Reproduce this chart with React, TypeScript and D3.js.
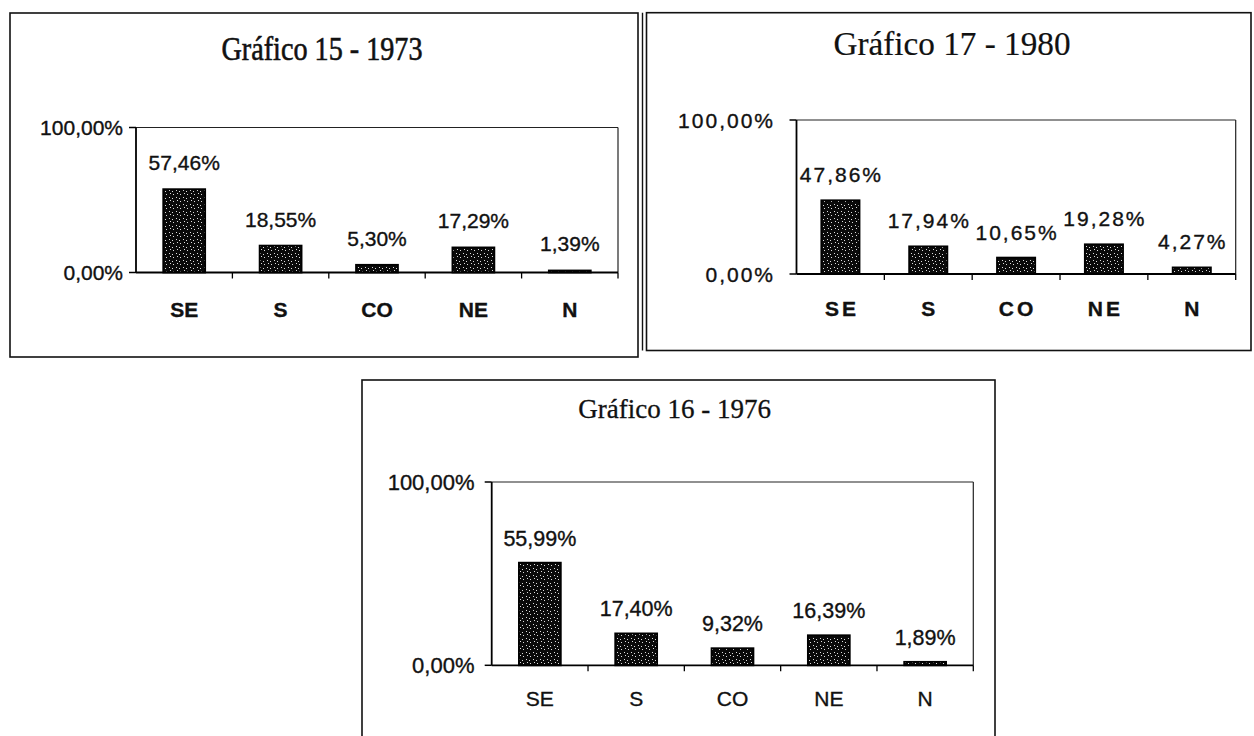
import React from "react";
import * as d3 from "d3";

// Regional shares (%) of the total, one array per year
const regions = ["SE", "S", "CO", "NE", "N"];
const share1973 = [57.46, 18.55, 5.3, 17.29, 1.39];
const share1976 = [55.99, 17.4, 9.32, 16.39, 1.89];
const share1980 = [47.86, 17.94, 10.65, 19.28, 4.27];
const yTickValues = [0, 100];

const fmt = (v: number) => v.toFixed(2).replace(".", ",") + "%";

const SANS = "'Liberation Sans', Arial, sans-serif";
const SERIF = "'Liberation Serif', 'Times New Roman', serif";

type Box = { x0: number; y0: number; x1: number; y1: number };

type PanelSpec = {
  id: string;
  title: string;
  values: number[];
  frame: Box;
  plot: Box;
  doubleLeft?: number;
  titleX: number;
  titleY: number;
  titleSize: number;
  titleLength?: number;
  titleStroke: number;
  tickSize: number;
  tickSpacing: number;
  tickRight: number;
  catY: number;
  catWeight: number;
  catSpacing: number;
  valueSize: number;
  valueSpacing: number;
  valueGap: number;
};

const panels: PanelSpec[] = [
  {
    id: "p1973",
    title: "Gráfico 15 - 1973",
    values: share1973,
    frame: { x0: 10, y0: 13, x1: 638, y1: 357 },
    plot: { x0: 136, y0: 127.5, x1: 618, y1: 272.5 },
    titleX: 322,
    titleY: 60,
    titleSize: 33,
    titleLength: 201,
    titleStroke: 0.6,
    tickSize: 21,
    tickSpacing: 0,
    tickRight: 123,
    catY: 316.5,
    catWeight: 700,
    catSpacing: 0,
    valueSize: 21,
    valueSpacing: 0,
    valueGap: 19,
  },
  {
    id: "p1980",
    title: "Gráfico 17 - 1980",
    values: share1980,
    frame: { x0: 646.5, y0: 12.7, x1: 1251, y1: 350.5 },
    plot: { x0: 796.5, y0: 120, x1: 1235.7, y1: 274 },
    doubleLeft: 642.5,
    titleX: 952,
    titleY: 55,
    titleSize: 33,
    titleLength: 237,
    titleStroke: 0.2,
    tickSize: 21,
    tickSpacing: 2,
    tickRight: 775,
    catY: 316,
    catWeight: 700,
    catSpacing: 3,
    valueSize: 21,
    valueSpacing: 2,
    valueGap: 18,
  },
  {
    id: "p1976",
    title: "Gráfico 16 - 1976",
    values: share1976,
    frame: { x0: 362, y0: 380, x1: 995, y1: 745 },
    plot: { x0: 491.7, y0: 482, x1: 973.3, y1: 665.3 },
    titleX: 674.7,
    titleY: 417.7,
    titleSize: 27,
    titleStroke: 0.3,
    tickSize: 22,
    tickSpacing: 0,
    tickRight: 474.5,
    catY: 706,
    catWeight: 400,
    catSpacing: 0,
    valueSize: 21.5,
    valueSpacing: 0,
    valueGap: 17,
  },
];

function Panel({ p }: { p: PanelSpec }) {
  const x = d3
    .scaleBand<string>()
    .domain(regions)
    .range([p.plot.x0, p.plot.x1])
    .paddingInner(0.565)
    .paddingOuter(0.2825);
  const y = d3.scaleLinear().domain([0, 100]).range([p.plot.y1, p.plot.y0]);
  const step = x.step();
  const boundaries = d3.range(1, regions.length + 1).map((i) => p.plot.x0 + i * step);
  const ink = { fill: "#111", stroke: "#111", strokeWidth: 0.35 };

  return (
    <g>
      {/* outer frame */}
      <rect
        x={p.frame.x0}
        y={p.frame.y0}
        width={p.frame.x1 - p.frame.x0}
        height={p.frame.y1 - p.frame.y0}
        fill="none"
        stroke="#111"
        strokeWidth={1.6}
      />
      {p.doubleLeft !== undefined && (
        <line x1={p.doubleLeft} x2={p.doubleLeft} y1={p.frame.y0} y2={p.frame.y1} stroke="#111" strokeWidth={1.4} />
      )}

      {/* title */}
      <text
        x={p.titleX}
        y={p.titleY}
        textAnchor="middle"
        fontFamily={SERIF}
        fontSize={p.titleSize}
        fill="#111"
        stroke="#111"
        strokeWidth={p.titleStroke}
        textLength={p.titleLength}
        lengthAdjust={p.titleLength ? "spacingAndGlyphs" : undefined}
      >
        {p.title}
      </text>

      {/* plot area border (top and right) */}
      <line x1={p.plot.x0} x2={p.plot.x1} y1={y(100)} y2={y(100)} stroke="#222" strokeWidth={1.2} />
      <line x1={p.plot.x1} x2={p.plot.x1} y1={y(100)} y2={y(0)} stroke="#222" strokeWidth={1.2} />

      {/* bars */}
      {p.values.map((v, i) => (
        <rect
          key={regions[i]}
          x={x(regions[i])!}
          y={y(v)}
          width={x.bandwidth()}
          height={y(0) - y(v)}
          fill="url(#stipple)"
          stroke="#000"
          strokeWidth={1.8}
        />
      ))}

      {/* value axis */}
      <line x1={p.plot.x0} x2={p.plot.x0} y1={y(100)} y2={y(0)} stroke="#000" strokeWidth={1.8} />
      {yTickValues.map((t) => (
        <g key={t}>
          <line x1={p.plot.x0 - 7} x2={p.plot.x0} y1={y(t)} y2={y(t)} stroke="#000" strokeWidth={1.5} />
          <text
            x={p.tickRight}
            y={y(t) + 7.5}
            textAnchor="end"
            fontFamily={SANS}
            fontSize={p.tickSize}
            letterSpacing={p.tickSpacing}
            {...ink}
          >
            {fmt(t)}
          </text>
        </g>
      ))}

      {/* category axis */}
      <line x1={p.plot.x0} x2={p.plot.x1} y1={y(0)} y2={y(0)} stroke="#000" strokeWidth={1.8} />
      {boundaries.map((bx, i) => (
        <line key={i} x1={bx} x2={bx} y1={y(0)} y2={y(0) + 6} stroke="#000" strokeWidth={1.3} />
      ))}
      {regions.map((r) => (
        <text
          key={r}
          x={x(r)! + x.bandwidth() / 2 + p.catSpacing / 2}
          y={p.catY}
          textAnchor="middle"
          fontFamily={SANS}
          fontSize={21}
          fontWeight={p.catWeight}
          letterSpacing={p.catSpacing}
          {...ink}
        >
          {r}
        </text>
      ))}

      {/* data labels */}
      {p.values.map((v, i) => (
        <text
          key={regions[i]}
          x={x(regions[i])! + x.bandwidth() / 2 + p.valueSpacing / 2}
          y={y(v) - p.valueGap}
          textAnchor="middle"
          fontFamily={SANS}
          fontSize={p.valueSize}
          letterSpacing={p.valueSpacing}
          {...ink}
        >
          {fmt(v)}
        </text>
      ))}
    </g>
  );
}

export default function App() {
  return (
    <svg
      width={1254}
      height={736}
      viewBox="0 0 1254 736"
      style={{ position: "absolute", left: 0, top: 0, background: "#fff" }}
    >
      <defs>
        <pattern id="stipple" width={7} height={7} patternUnits="userSpaceOnUse">
          <rect width={7} height={7} fill="#0a0a0a" />
          <rect x={1} y={1} width={1} height={1} fill="#ddd" />
          <rect x={4} y={2} width={1} height={1} fill="#ddd" />
          <rect x={2} y={4} width={1} height={1} fill="#ddd" />
          <rect x={5} y={5} width={1} height={1} fill="#ddd" />
        </pattern>
      </defs>
      <rect width={1254} height={736} fill="#fff" />
      {panels.map((p) => (
        <Panel key={p.id} p={p} />
      ))}
    </svg>
  );
}
